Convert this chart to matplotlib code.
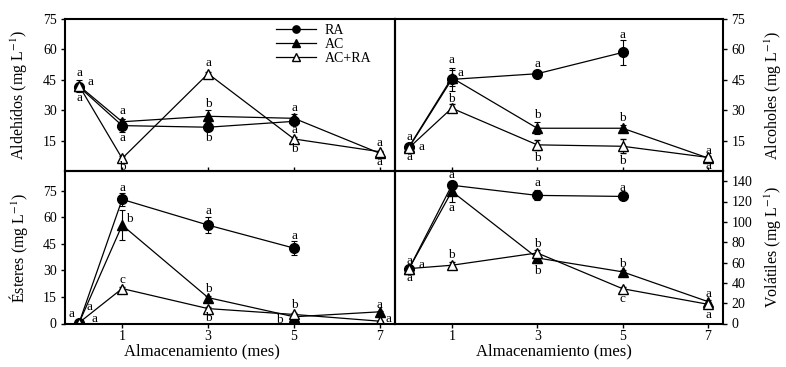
import matplotlib
matplotlib.use('Agg')
import matplotlib.pyplot as plt

plt.rcParams['font.family'] = ['Liberation Serif', 'DejaVu Serif']
plt.rcParams['mathtext.fontset'] = 'stix'

# meses de almacenamiento
meses = [0, 1, 3, 5, 7]
meses_ra = [0, 1, 3, 5]

# Aldehidos
ald_ra = [41.5, 22.4, 21.6, 24.5]
ald_ra_err = [1.5, 3.3, 1.5, 2.0]
ald_ac = [42.0, 24.3, 27.0, 26.0, 8.7]
ald_ac_err = [3.0, 1.5, 3.0, 2.0, 0.5]
ald_acra = [42.0, 6.2, 48.0, 15.8, 9.5]
ald_acra_err = [1.5, 1.0, 1.0, 1.0, 0.5]

# Alcoholes
alc_ra = [11.7, 45.2, 48.0, 58.5]
alc_ra_err = [1.5, 5.5, 1.5, 6.0]
alc_ac = [12.0, 46.0, 21.1, 21.1, 6.4]
alc_ac_err = [1.0, 4.0, 3.0, 1.5, 0.5]
alc_acra = [11.5, 31.0, 12.9, 12.2, 6.7]
alc_acra_err = [1.0, 2.0, 2.5, 3.5, 0.5]

# Esteres
est_ra = [0.5, 70.0, 55.5, 42.5]
est_ra_err = [0.3, 3.5, 4.5, 3.8]
est_ac = [0.5, 55.5, 14.6, 3.8, 6.6]
est_ac_err = [0.3, 8.3, 1.0, 0.5, 0.5]
est_acra = [0.5, 19.7, 8.4, 5.1, 1.3]
est_acra_err = [0.3, 1.0, 1.0, 1.0, 0.3]

# Volatiles totales
vol_ra = [54.0, 136.0, 126.0, 125.0]
vol_ra_err = [1.0, 2.0, 5.0, 1.0]
vol_ac = [54.0, 130.0, 64.5, 50.8, 21.5]
vol_ac_err = [2.0, 10.0, 5.0, 2.0, 2.0]
vol_acra = [54.0, 57.3, 69.4, 34.2, 18.9]
vol_acra_err = [1.0, 3.0, 3.0, 2.0, 1.0]

# letras de significancia (mes, valor, letra)
ald_letras = [(0, 48.4, 'a'), (0.27, 43.7, 'a'), (0, 36, 'a'),
              (1, 29.4, 'a'), (1, 16.5, 'a'), (1, 2.1, 'b'),
              (3, 53.3, 'a'), (3, 33.3, 'b'), (3, 16.5, 'b'),
              (5, 30.9, 'a'), (5, 20.3, 'a'), (5, 11, 'b'),
              (7, 13.6, 'a'), (7, 4.6, 'a')]
alc_letras = [(0, 17, 'a'), (0.28, 11.7, 'a'), (0, 6.7, 'a'),
              (1, 54.7, 'a'), (1.21, 48.6, 'a'), (1, 35.3, 'b'),
              (3, 53, 'a'), (3, 27.7, 'b'), (3, 6.5, 'b'),
              (5, 67, 'a'), (5, 26, 'b'), (5, 5, 'b'),
              (7, 10, 'a'), (7, 2.6, 'a')]
est_letras = [(-0.19, 5.6, 'a'), (0.23, 9.4, 'a'), (0.35, 2.4, 'a'),
              (1, 76.3, 'a'), (1.17, 59, 'b'), (1, 24.8, 'c'),
              (3, 63.2, 'a'), (3, 19.3, 'b'), (3, 3.2, 'b'),
              (5, 49.3, 'a'), (5, 10.3, 'b'), (4.65, 2.25, 'b'),
              (7, 10.7, 'a'), (7.2, 2.4, 'a')]
vol_letras = [(0, 61.2, 'a'), (0.29, 58, 'a'), (0, 45, 'a'),
              (1, 145.9, 'a'), (1, 114, 'a'), (1, 67, 'b'),
              (3, 138.4, 'a'), (3, 78.5, 'b'), (3, 51.4, 'b'),
              (5, 133.5, 'a'), (5, 59, 'b'), (5, 23.8, 'c'),
              (7, 29.3, 'a'), (7, 8.5, 'a')]

fig = plt.figure(figsize=(7.86, 3.67), dpi=100)
L, M, R = 65 / 786, 395 / 786, 723 / 786
T, C, B = 1 - 19 / 367, 1 - 171 / 367, 1 - 323.5 / 367
ax1 = fig.add_axes([L, C, M - L, T - C])
ax2 = fig.add_axes([M, C, R - M, T - C])
ax3 = fig.add_axes([L, B, M - L, C - B])
ax4 = fig.add_axes([M, B, R - M, C - B])


def dibujar(ax, ra, ra_e, ac, ac_e, acra, acra_e, letras):
    ax.set_facecolor('none')
    ax.errorbar(meses_ra, ra, yerr=ra_e, color='black', lw=0.9, marker='o', ms=7,
                mfc='black', mec='black', capsize=2.5, elinewidth=0.8, capthick=0.8, label='RA')
    ax.errorbar(meses, ac, yerr=ac_e, color='black', lw=0.9, marker='^', ms=7,
                mfc='black', mec='black', capsize=2.5, elinewidth=0.8, capthick=0.8, label='AC')
    ax.errorbar(meses, acra, yerr=acra_e, color='black', lw=0.9, marker='^', ms=7.5,
                mfc='white', mec='black', mew=1.0, capsize=2.5, elinewidth=0.8, capthick=0.8,
                label='AC+RA')
    for xx, yy, s in letras:
        ax.text(xx, yy, s, ha='center', va='center', fontsize=9.5, clip_on=False)
    ax.set_xlim(-0.33, 7.35)
    ax.set_xticks([1, 3, 5, 7])
    for sp in ax.spines.values():
        sp.set_linewidth(1.5)
    ax.tick_params(axis='y', length=3, width=1, pad=3, labelsize=10)
    ax.tick_params(axis='x', length=3, width=1, pad=2, labelsize=10)


dibujar(ax1, ald_ra, ald_ra_err, ald_ac, ald_ac_err, ald_acra, ald_acra_err, ald_letras)
dibujar(ax2, alc_ra, alc_ra_err, alc_ac, alc_ac_err, alc_acra, alc_acra_err, alc_letras)
dibujar(ax3, est_ra, est_ra_err, est_ac, est_ac_err, est_acra, est_acra_err, est_letras)
dibujar(ax4, vol_ra, vol_ra_err, vol_ac, vol_ac_err, vol_acra, vol_acra_err, vol_letras)

# paneles superiores
for ax in (ax1, ax2):
    ax.set_ylim(0, 75)
    ax.set_yticks([15, 30, 45, 60, 75])
    ax.tick_params(axis='x', direction='in', labelbottom=False)
ax3.set_ylim(0, 86)
ax3.set_yticks([0, 15, 30, 45, 60, 75])
ax4.set_ylim(0, 150)
ax4.set_yticks([0, 20, 40, 60, 80, 100, 120, 140])

for ax in (ax2, ax4):
    ax.yaxis.tick_right()
    ax.yaxis.set_label_position('right')

ax1.set_ylabel('Aldehídos (mg L$^{-1}$)', fontsize=11.5)
ax3.set_ylabel('Ésteres (mg L$^{-1}$)', fontsize=11.5)
ax2.set_ylabel('Alcoholes (mg L$^{-1}$)', fontsize=11.5)
ax4.set_ylabel('Volátiles (mg L$^{-1}$)', fontsize=11.5)
ax1.yaxis.set_label_coords(-0.105, 0.5)
ax3.yaxis.set_label_coords(-0.105, 0.5)
ax2.yaxis.set_label_coords(1.122, 0.5)
ax4.yaxis.set_label_coords(1.122, 0.5)

ax3.set_xlabel('Almacenamiento (mes)', fontsize=12)
ax4.set_xlabel('Almacenamiento (mes)', fontsize=12)
ax3.xaxis.set_label_coords(0.415, -0.13)
ax4.xaxis.set_label_coords(0.485, -0.13)

h, l = ax1.get_legend_handles_labels()
h = [x[0] for x in h]
ax1.legend(h, l, loc='upper left', bbox_to_anchor=(0.64, 0.965), frameon=False,
           fontsize=10, handlelength=2.9, labelspacing=0.05, borderpad=0,
           handletextpad=0.6, borderaxespad=0, markerscale=0.75)

fig.savefig('out.png', dpi=100)
